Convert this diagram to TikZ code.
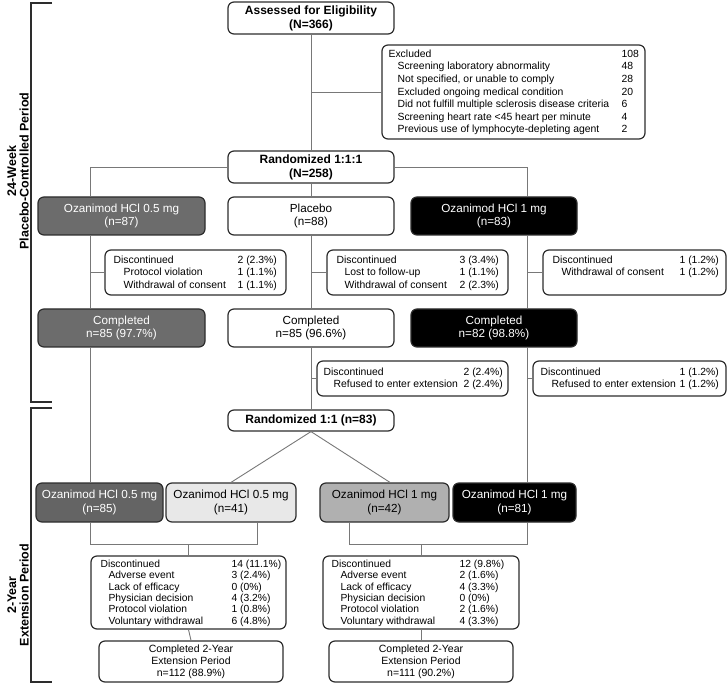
\documentclass[tikz,border=0pt]{standalone}
\usepackage{fontspec}
\setmainfont{Liberation Sans}
\usetikzlibrary{calc}
\definecolor{dgray}{RGB}{108,108,108}
\definecolor{egray}{RGB}{100,100,100}
\definecolor{lgray}{RGB}{232,232,232}
\definecolor{mgray}{RGB}{176,176,176}
\definecolor{bord}{RGB}{45,45,45}
\definecolor{lin}{RGB}{120,120,120}
\newcommand\myind[1]{\hspace*{#1pt}}
\begin{document}
\begin{tikzpicture}[x=1pt,y=-1pt,
  box/.style={draw=bord, line width=1.2pt, rounded corners=6pt, inner sep=0pt, fill=white},
  conn/.style={draw=lin, line width=0.9pt},
  txt/.style={anchor=north west, inner sep=0pt, font=\fontsize{10.4}{12.6}\selectfont},
  txtb/.style={anchor=north west, inner sep=0pt, font=\fontsize{10.3}{11.4}\selectfont},
  big/.style={font=\fontsize{11.7}{13.5}\selectfont, align=center},
  bld/.style={font=\bfseries\fontsize{12}{14}\selectfont, align=center},
  lab/.style={font=\bfseries\fontsize{12.5}{12.5}\selectfont, align=center, rotate=90},
  brk/.style={draw=bord, line width=1.3pt},
  fin/.style={font=\fontsize{10.5}{12}\selectfont, align=center}
]
\useasboundingbox (0,0) rectangle (728,684);

% column coordinates
\coordinate (xL) at (90,0);
\coordinate (xP) at (311,0);
\coordinate (xR) at (527,0);
\coordinate (xB) at (257,0);
\coordinate (xC) at (349,0);
\coordinate (dC) at (390,0);
\coordinate (jL) at (0,544);

% brackets and period labels
\draw[brk] (52,3) -- (31,3) -- (31,402) -- (52,402);
\draw[brk] (52,408) -- (31,408) -- (31,682) -- (52,682);
\node[lab] (lab1) at (18,171) {24-Week\\Placebo-Controlled Period};
\node[lab] (lab2) at (18,595) {2-Year\\Extension Period};

% top
\node[box, bld, minimum width=166pt, minimum height=32pt] (assess) at (311,18) {Assessed for Eligibility\\(N=366)};
\node[box, minimum width=263pt, minimum height=94pt] (excl) at (513.5,92) {};
\node[txt] (exclT) at ($(excl.north west)+(7,3.9)$) {\begin{tabular}{@{}p{233pt}@{}l@{}}
Excluded & 108\\
\myind{9}Screening laboratory abnormality & 48\\
\myind{9}Not specified, or unable to comply & 28\\
\myind{9}Excluded ongoing medical condition & 20\\
\myind{9}Did not fulfill multiple sclerosis disease criteria & 6\\
\myind{9}Screening heart rate <45 heart per minute & 4\\
\myind{9}Previous use of lymphocyte-depleting agent & 2
\end{tabular}};
\node[box, bld, minimum width=166pt, minimum height=32pt] (rand1) at (311,167) {Randomized 1:1:1\\(N=258)};

% arms
\node[box, big, fill=dgray, text=white, minimum width=167pt, minimum height=38pt] (armL) at (121.5,216) {Ozanimod HCl 0.5 mg\\(n=87)};
\node[box, big, minimum width=166pt, minimum height=38pt] (armP) at (311,216) {Placebo\\(n=88)};
\node[box, big, fill=black, text=white, minimum width=166pt, minimum height=38pt] (armR) at (494,216) {Ozanimod HCl 1 mg\\(n=83)};

% discontinued (24 weeks)
\node[box, minimum width=181pt, minimum height=45pt] (disc1) at (195.5,272.5) {};
\node[txt] (disc1T) at ($(disc1.north west)+(9,4.9)$) {\begin{tabular}{@{}p{124pt}@{}l@{}}
Discontinued & 2 (2.3\%)\\
\myind{10}Protocol violation & 1 (1.1\%)\\
\myind{10}Withdrawal of consent & 1 (1.1\%)
\end{tabular}};
\node[box, minimum width=181pt, minimum height=45pt] (disc2) at (417.5,272.5) {};
\node[txt] (disc2T) at ($(disc2.north west)+(10,4.9)$) {\begin{tabular}{@{}p{123pt}@{}l@{}}
Discontinued & 3 (3.4\%)\\
\myind{8}Lost to follow-up & 1 (1.1\%)\\
\myind{8}Withdrawal of consent & 2 (2.3\%)
\end{tabular}};
\node[box, minimum width=183pt, minimum height=45pt] (disc3) at (634.5,272.5) {};
\node[txt] (disc3T) at ($(disc3.north west)+(10,4.9)$) {\begin{tabular}{@{}p{127pt}@{}l@{}}
Discontinued & 1 (1.2\%)\\
\myind{9}Withdrawal of consent & 1 (1.2\%)
\end{tabular}};

% completed (24 weeks)
\node[box, big, fill=dgray, text=white, minimum width=167pt, minimum height=38pt] (compL) at (121.5,328) {Completed\\n=85 (97.7\%)};
\node[box, big, minimum width=166pt, minimum height=38pt] (compP) at (311,328) {Completed\\n=85 (96.6\%)};
\node[box, big, fill=black, text=white, minimum width=166pt, minimum height=38pt] (compR) at (494,328) {Completed\\n=82 (98.8\%)};

% refused extension
\node[box, minimum width=191pt, minimum height=35pt] (disc2b) at (412.5,378.5) {};
\node[txt] (disc2bT) at ($(disc2b.north west)+(7,5.9)$) {\begin{tabular}{@{}p{140pt}@{}l@{}}
Discontinued & 2 (2.4\%)\\
\myind{10}Refused to enter extension & 2 (2.4\%)
\end{tabular}};
\node[box, minimum width=193pt, minimum height=35pt] (disc3b) at (629.5,378.5) {};
\node[txt] (disc3bT) at ($(disc3b.north west)+(8,5.9)$) {\begin{tabular}{@{}p{139pt}@{}l@{}}
Discontinued & 1 (1.2\%)\\
\myind{11}Refused to enter extension & 1 (1.2\%)
\end{tabular}};

% extension
\node[box, bld, minimum width=166pt, minimum height=21pt] (rand2) at (311,420.5) {Randomized 1:1 (n=83)};
\node[box, big, fill=egray, text=white, minimum width=127pt, minimum height=39pt] (extA) at (99.5,502.5) {Ozanimod HCl 0.5 mg\\(n=85)};
\node[box, big, fill=lgray, minimum width=130pt, minimum height=39pt] (extB) at (231,502.5) {Ozanimod HCl 0.5 mg\\(n=41)};
\node[box, big, fill=mgray, minimum width=129pt, minimum height=39pt] (extC) at (384.5,502.5) {Ozanimod HCl 1 mg\\(n=42)};
\node[box, big, fill=black, text=white, minimum width=123pt, minimum height=39pt] (extD) at (514.5,502.5) {Ozanimod HCl 1 mg\\(n=81)};

\node[box, minimum width=195pt, minimum height=73pt] (discL) at (188.5,592.5) {};
\node[txtb] (discLT) at ($(discL.north west)+(10,3.7)$) {\begin{tabular}{@{}p{131pt}@{}l@{}}
Discontinued & 14 (11.1\%)\\
\myind{8}Adverse event & 3 (2.4\%)\\
\myind{8}Lack of efficacy & 0 (0\%)\\
\myind{8}Physician decision & 4 (3.2\%)\\
\myind{8}Protocol violation & 1 (0.8\%)\\
\myind{8}Voluntary withdrawal & 6 (4.8\%)
\end{tabular}};
\node[box, minimum width=196pt, minimum height=73pt] (discR) at (421,592.5) {};
\node[txtb] (discRT) at ($(discR.north west)+(9,3.7)$) {\begin{tabular}{@{}p{128pt}@{}l@{}}
Discontinued & 12 (9.8\%)\\
\myind{9}Adverse event & 2 (1.6\%)\\
\myind{9}Lack of efficacy & 4 (3.3\%)\\
\myind{9}Physician decision & 0 (0\%)\\
\myind{9}Protocol violation & 2 (1.6\%)\\
\myind{9}Voluntary withdrawal & 4 (3.3\%)
\end{tabular}};

\node[box, fin, minimum width=184pt, minimum height=41pt] (endL) at (191,661.5) {Completed 2-Year\\Extension Period\\n=112 (88.9\%)};
\node[box, fin, minimum width=184pt, minimum height=41pt] (endR) at (421,661.5) {Completed 2-Year\\Extension Period\\n=111 (90.2\%)};

% connectors
\draw[conn] (assess.south) -- (rand1.north);
\draw[conn] (assess.south |- excl.west) -- (excl.west);
\draw[conn] (rand1.west) -| (armL.north -| xL);
\draw[conn] (rand1.east) -| (armR.north -| xR);
\draw[conn] (rand1.south) -- (armP.north);
\draw[conn] (armL.south -| xL) -- (compL.north -| xL);
\draw[conn] (disc1.west -| xL) -- (disc1.west);
\draw[conn] (armP.south) -- (compP.north);
\draw[conn] (disc2.west -| xP) -- (disc2.west);
\draw[conn] (armR.south -| xR) -- (compR.north -| xR);
\draw[conn] (disc3.west -| xR) -- (disc3.west);
\draw[conn] (compL.south -| xL) -- (extA.north -| xL);
\draw[conn] (compP.south) -- (rand2.north);
\draw[conn] (disc2b.west -| xP) -- (disc2b.west);
\draw[conn] (compR.south -| xR) -- (extD.north -| xR);
\draw[conn] (disc3b.west -| xR) -- (disc3b.west);
\draw[conn] (rand2.south) -- (extB.north);
\draw[conn] (rand2.south) -- (extC.north -| dC);
\draw[conn] (extA.south -| xL) -- (xL |- jL) -- (xB |- jL) -- (extB.south -| xB);
\draw[conn] (discL.north |- jL) -- (discL.north);
\draw[conn] (extC.south -| xC) -- (xC |- jL) -- (xR |- jL) -- (extD.south -| xR);
\draw[conn] (discR.north |- jL) -- (discR.north);
\draw[conn] (discL.south) -- (endL.north);
\draw[conn] (discR.south) -- (endR.north);
\end{tikzpicture}
\end{document}
